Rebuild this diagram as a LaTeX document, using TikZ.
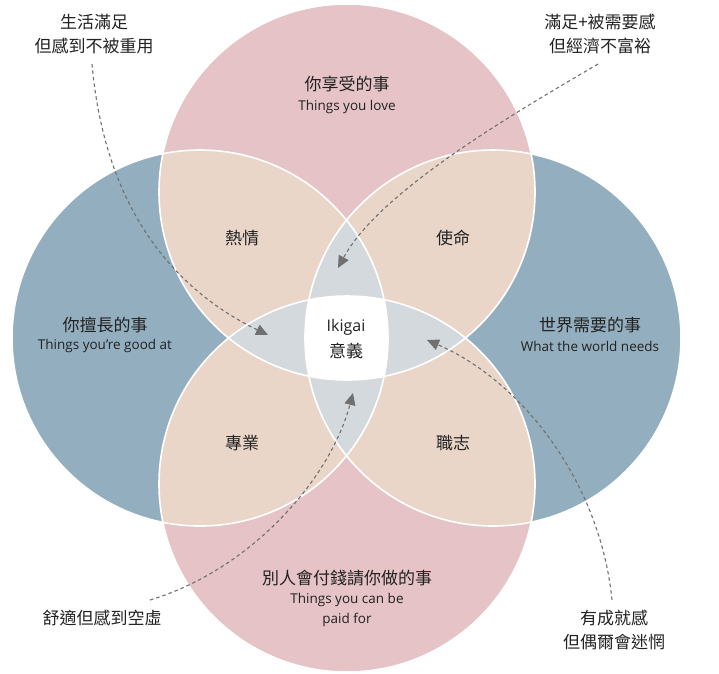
\documentclass[tikz,border=0pt]{standalone}
\usepackage{fontspec}
\setmainfont{Noto Sans CJK TC}
\newfontfamily\enfont{Open Sans}
\usetikzlibrary{arrows.meta}
\definecolor{pinkc}{HTML}{E5C3C6}
\definecolor{bluec}{HTML}{93AFBF}
\definecolor{beige}{HTML}{EAD6C9}
\definecolor{grayc}{HTML}{D3D9DC}
\definecolor{txt}{HTML}{222222}
\definecolor{dash}{HTML}{707070}
\begin{document}
\begin{tikzpicture}[x=1pt,y=-1pt,
  cj/.style={font=\fontsize{17}{20}\selectfont,text=txt,inner sep=1pt},
  en/.style={font=\enfont\fontsize{13.5}{16}\selectfont,text=txt,inner sep=1pt},
  lbl/.style={font=\fontsize{17}{24}\selectfont,text=txt,align=center,inner sep=1pt},
  arr/.style={draw=dash,line width=1.1pt,dash pattern=on 3.5pt off 3pt,-{Triangle[length=12pt,width=11pt,fill=dash]}}]
\useasboundingbox (0,0) rectangle (719,673);
\def\R{188}
\def\cT{(347,192) circle (\R)}
\def\cB{(347,484) circle (\R)}
\def\cL{(200,338) circle (\R)}
\def\cR{(493,338) circle (\R)}
\fill[pinkc] \cT; \fill[pinkc] \cB; \fill[bluec] \cL; \fill[bluec] \cR;
\begin{scope}\clip \cT; \fill[beige] \cL; \fill[beige] \cR; \end{scope}
\begin{scope}\clip \cB; \fill[beige] \cL; \fill[beige] \cR; \end{scope}
\begin{scope}\clip \cL; \clip \cR; \fill[grayc] \cT; \fill[grayc] \cB; \end{scope}
\begin{scope}\clip \cT; \clip \cB; \fill[grayc] \cL; \fill[grayc] \cR; \end{scope}
\begin{scope}\clip \cT; \clip \cB; \clip \cL; \fill[white] \cR; \end{scope}
\draw[white,line width=1.6pt] \cT; \draw[white,line width=1.6pt] \cB;
\draw[white,line width=1.6pt] \cL; \draw[white,line width=1.6pt] \cR;
\node[cj] (t1) at (347,84) {你享受的事};
\node[en] (t2) at (347,107) {Things you love};
\node[cj] (l1) at (105,325) {你擅長的事};
\node[en] (l2) at (105,346) {Things you’re good at};
\node[cj] (r1) at (590,325) {世界需要的事};
\node[en] (r2) at (590,346) {What the world needs};
\node[cj] (b1) at (347,578) {別人會付錢請你做的事};
\node[en,align=center,font=\enfont\fontsize{13.5}{20}\selectfont] (b2) at (347,610) {Things you can be\\paid for};
\node[cj] (p1) at (242,238) {熱情};
\node[cj] (p2) at (453,238) {使命};
\node[cj] (p3) at (242,443) {專業};
\node[cj] (p4) at (453,443) {職志};
\node[en,font=\enfont\fontsize{16}{18}\selectfont] (c1) at (346,327) {Ikigai};
\node[cj] (c2) at (346,351) {意義};
\node[lbl] (n1) at (94,34) {生活滿足\\但感到不被重用};
\node[lbl] (n2) at (600,34) {滿足+被需要感\\但經濟不富裕};
\node[lbl] (n3) at (102,618) {舒適但感到空虛};
\node[lbl] (n4) at (614,630) {有成就感\\但偶爾會迷惘};
\coordinate (a1) at (268,335);
\coordinate (a2) at (338,268);
\coordinate (a3) at (353,393);
\coordinate (a4) at (427,340);
\draw[arr] (92,64) .. controls (105,210) and (175,290) .. (a1);
\draw[arr] (598,64) .. controls (520,110) and (380,190) .. (a2);
\draw[arr] (150,600) .. controls (250,570) and (330,480) .. (a3);
\draw[arr] (612,600) .. controls (600,480) and (520,380) .. (a4);
\end{tikzpicture}
\end{document}
